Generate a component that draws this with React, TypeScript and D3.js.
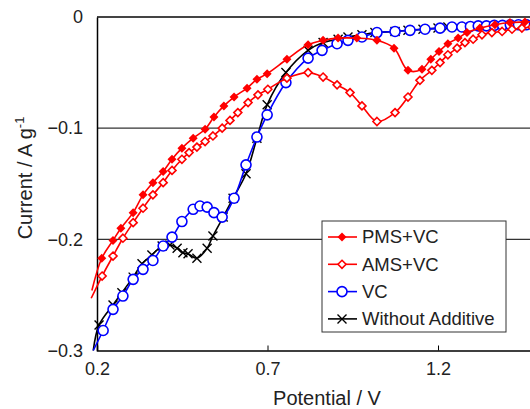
import { useRef, useEffect } from 'react'
import * as d3 from 'd3'

// potential (V) and current (A/g)
const pmsV = [0.185, 0.214, 0.247, 0.270, 0.306, 0.335, 0.364, 0.394, 0.420, 0.449, 0.482, 0.517, 0.543, 0.572, 0.602, 0.640, 0.669, 0.699, 0.757, 0.819, 0.863, 0.907, 0.962, 1.021, 1.071, 1.112, 1.153, 1.179, 1.203, 1.229, 1.259, 1.285, 1.323, 1.367, 1.411, 1.455, 1.50]
const pmsI = [-0.246, -0.217, -0.201, -0.190, -0.176, -0.160, -0.149, -0.139, -0.128, -0.118, -0.109, -0.101, -0.090, -0.080, -0.072, -0.064, -0.056, -0.051, -0.038, -0.025, -0.021, -0.019, -0.019, -0.021, -0.028, -0.048, -0.047, -0.038, -0.031, -0.024, -0.019, -0.014, -0.010, -0.007, -0.005, -0.0045, -0.004]

const amsV = [0.183, 0.215, 0.247, 0.276, 0.306, 0.335, 0.364, 0.394, 0.420, 0.449, 0.470, 0.493, 0.517, 0.540, 0.567, 0.590, 0.613, 0.643, 0.672, 0.701, 0.757, 0.819, 0.863, 0.904, 0.942, 0.977, 1.021, 1.074, 1.112, 1.147, 1.182, 1.206, 1.229, 1.256, 1.279, 1.303, 1.329, 1.358, 1.388, 1.417, 1.446, 1.476, 1.505]
const amsI = [-0.253, -0.233, -0.215, -0.199, -0.185, -0.172, -0.160, -0.149, -0.138, -0.128, -0.122, -0.117, -0.112, -0.107, -0.100, -0.093, -0.086, -0.077, -0.070, -0.065, -0.055, -0.050, -0.054, -0.061, -0.068, -0.080, -0.094, -0.086, -0.072, -0.057, -0.048, -0.041, -0.034, -0.028, -0.023, -0.020, -0.016, -0.014, -0.013, -0.011, -0.010, -0.009, -0.008]

const vcV = [0.189, 0.218, 0.247, 0.276, 0.306, 0.335, 0.364, 0.394, 0.420, 0.449, 0.482, 0.502, 0.523, 0.543, 0.567, 0.602, 0.637, 0.669, 0.699, 0.754, 0.819, 0.860, 0.904, 0.936, 0.977, 1.021, 1.074, 1.118, 1.162, 1.206, 1.241, 1.270, 1.295, 1.318, 1.342, 1.365, 1.389, 1.412, 1.436, 1.459, 1.483, 1.506]
const vcI = [-0.300, -0.282, -0.263, -0.251, -0.236, -0.227, -0.219, -0.206, -0.198, -0.184, -0.173, -0.170, -0.171, -0.176, -0.180, -0.163, -0.133, -0.108, -0.088, -0.059, -0.037, -0.030, -0.024, -0.021, -0.018, -0.014, -0.013, -0.012, -0.011, -0.010, -0.009, -0.009, -0.0085, -0.008, -0.008, -0.0075, -0.0075, -0.007, -0.007, -0.007, -0.0065, -0.0065]

const noV = [0.189, 0.206, 0.247, 0.273, 0.306, 0.332, 0.361, 0.391, 0.414, 0.435, 0.452, 0.467, 0.493, 0.523, 0.540, 0.570, 0.599, 0.637, 0.669, 0.699, 0.754, 0.819, 0.863, 0.907, 0.936, 0.977, 1.015, 1.074, 1.112, 1.156, 1.200, 1.229, 1.259, 1.283, 1.306, 1.330, 1.353, 1.377, 1.400, 1.424, 1.447, 1.471, 1.494]
const noI = [-0.300, -0.277, -0.259, -0.248, -0.234, -0.222, -0.214, -0.206, -0.205, -0.208, -0.212, -0.213, -0.217, -0.208, -0.197, -0.180, -0.163, -0.141, -0.109, -0.079, -0.050, -0.030, -0.023, -0.020, -0.018, -0.016, -0.014, -0.013, -0.012, -0.011, -0.010, -0.009, -0.009, -0.0085, -0.0085, -0.008, -0.008, -0.0075, -0.0075, -0.007, -0.007, -0.007, -0.0065]

const names = ['PMS+VC', 'AMS+VC', 'VC', 'Without Additive']
const xTicks = [0.2, 0.7, 1.2]
const yTicks = [0, -0.1, -0.2, -0.3]

const font = 'Arial, "Liberation Sans", sans-serif'

export default function App() {
  const svgRef = useRef<SVGSVGElement>(null)

  useEffect(() => {
    const w = 530
    const h = 409
    const svg = d3.select(svgRef.current)
    svg.selectAll('*').remove()

    const x = d3.scaleLinear().domain([0.2, 1.5]).range([97, 540.3])
    const y = d3.scaleLinear().domain([0, -0.3]).range([17, 350.5])

    // gridlines + frame
    const g = svg.append('g')
    g.selectAll('.grid')
      .data([-0.1, -0.2])
      .join('line')
      .attr('x1', x(0.2)).attr('x2', w + 5)
      .attr('y1', d => y(d)).attr('y2', d => y(d))
      .attr('stroke', '#333').attr('stroke-width', 1.3)
    g.append('line')
      .attr('x1', x(0.2)).attr('x2', w + 5)
      .attr('y1', y(0)).attr('y2', y(0))
      .attr('stroke', '#444').attr('stroke-width', 2)

    // axes
    const xAxis = d3.axisBottom(x).tickValues(xTicks).tickSize(-5).tickPadding(12)
      .tickFormat(d => d3.format('.1f')(d as number))
    svg.append('g')
      .attr('transform', `translate(0, ${y(-0.3)})`)
      .call(xAxis)
      .call(s => s.select('.domain').attr('stroke', '#000').attr('stroke-width', 1.5))
      .call(s => s.selectAll('text').attr('font-size', 18).attr('font-family', font).attr('fill', '#222'))

    const yAxis = d3.axisLeft(y).tickValues(yTicks).tickSize(0).tickPadding(14)
      .tickFormat(d => (d === 0 ? '0' : d3.format('.1f')(d as number)))
    svg.append('g')
      .attr('transform', `translate(${x(0.2)}, 0)`)
      .call(yAxis)
      .call(s => s.select('.domain').attr('stroke', '#000').attr('stroke-width', 1.5))
      .call(s => s.selectAll('text').attr('font-size', 18).attr('font-family', font).attr('fill', '#222'))

    // axis titles
    svg.append('text')
      .attr('x', 327).attr('y', 405)
      .attr('text-anchor', 'middle')
      .attr('font-family', font).attr('font-size', 20).attr('fill', '#222')
      .text('Potential / V')
    const yl = svg.append('text')
      .attr('transform', 'translate(32, 178) rotate(-90)')
      .attr('text-anchor', 'middle')
      .attr('font-family', font).attr('font-size', 20).attr('fill', '#222')
    yl.append('tspan').text('Current / A g')
    yl.append('tspan').attr('dy', -8).attr('font-size', 13).text('-1')

    const series = [
      { v: pmsV, i: pmsI, color: '#ff0000', marker: 'fdiamond' },
      { v: amsV, i: amsI, color: '#ff0000', marker: 'odiamond' },
      { v: vcV, i: vcI, color: '#0000ff', marker: 'circle' },
      { v: noV, i: noI, color: '#000000', marker: 'cross' },
    ]

    const line = d3.line<[number, number]>()
      .x(d => x(d[0]))
      .y(d => y(d[1]))
      .curve(d3.curveCatmullRom)

    const drawMarker = (sel: any, type: string, color: string) => {
      if (type === 'fdiamond') {
        sel.append('path').attr('d', 'M0,-4.5L4.5,0L0,4.5L-4.5,0Z').attr('fill', color)
      } else if (type === 'odiamond') {
        sel.append('path').attr('d', 'M0,-4L4,0L0,4L-4,0Z').attr('fill', '#fff').attr('stroke', color).attr('stroke-width', 1.6)
      } else if (type === 'circle') {
        sel.append('circle').attr('r', 5).attr('fill', '#fff').attr('stroke', color).attr('stroke-width', 1.6)
      } else {
        sel.append('path').attr('d', 'M-4.5,-4.5L4.5,4.5M-4.5,4.5L4.5,-4.5').attr('stroke', color).attr('stroke-width', 1.4)
      }
    }

    const plot = svg.append('g')
    // draw in reverse so PMS sits on top
    series.slice().reverse().forEach(s => {
      const pts = s.v.map((v, k) => [v, s.i[k]] as [number, number])
      plot.append('path')
        .attr('d', line(pts))
        .attr('fill', 'none')
        .attr('stroke', s.color)
        .attr('stroke-width', 1.6)
      pts.slice(1).forEach(p => {
        const m = plot.append('g').attr('transform', `translate(${x(p[0])},${y(p[1])})`)
        drawMarker(m, s.marker, s.color)
      })
    })

    // legend
    const lg = svg.append('g').attr('transform', 'translate(322, 221)')
    lg.append('rect')
      .attr('width', 184).attr('height', 111)
      .attr('fill', '#fff').attr('stroke', '#333').attr('stroke-width', 1)
    series.forEach((s, k) => {
      const row = lg.append('g').attr('transform', `translate(0, ${16 + k * 27.3})`)
      row.append('line').attr('x1', 6).attr('x2', 35).attr('stroke', s.color).attr('stroke-width', 1.6)
      drawMarker(row.append('g').attr('transform', 'translate(20,0)'), s.marker, s.color)
      row.append('text')
        .attr('x', 40).attr('dy', '0.35em')
        .attr('font-family', font).attr('font-size', 18.5).attr('fill', '#222')
        .text(names[k])
    })
  }, [])

  return (
    <svg ref={svgRef} width={530} height={409}
      style={{ position: 'absolute', left: 0, top: 0, background: '#fff' }} />
  )
}
